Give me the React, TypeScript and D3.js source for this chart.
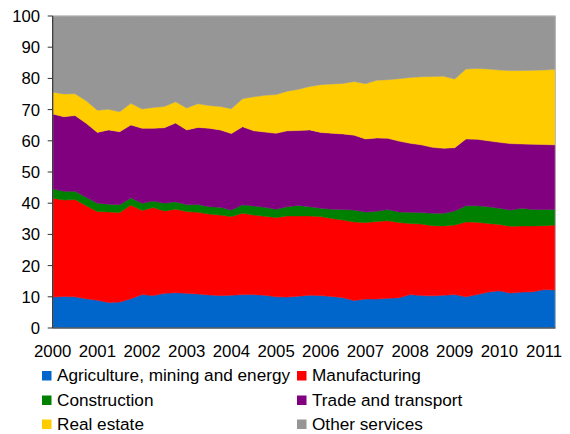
import React from "react";
import * as d3 from "d3";

const quarters: string[] = [];
for (let y = 2000; y <= 2011; y++) for (let q = 1; q <= 4; q++) quarters.push(`${y}Q${q}`);
const periods = quarters.slice(0, 46);

const agriculture = [9.9,10.1,10.0,9.4,8.9,8.2,8.3,9.4,10.7,10.4,11.1,11.3,11.1,10.9,10.6,10.4,10.5,10.7,10.7,10.5,10.0,9.9,10.2,10.5,10.4,10.1,9.7,8.8,9.3,9.3,9.5,9.7,10.7,10.4,10.3,10.5,10.7,10.0,10.7,11.5,11.9,11.2,11.5,11.6,12.3,12.2];
const manufacturing = [31.7,30.9,31.2,29.8,28.4,29.0,28.7,30.0,27.0,28.2,26.4,26.8,26.2,26.2,25.9,25.8,25.2,26.1,25.5,25.3,25.4,26.0,25.7,25.4,25.3,25.0,24.9,25.2,24.5,24.8,24.9,24.1,22.8,22.9,22.5,22.2,22.3,24.0,23.2,22.0,21.3,21.4,21.2,21.1,20.5,20.8];
const construction = [3.0,2.8,2.6,2.7,2.7,2.5,2.5,2.3,2.3,2.1,2.5,2.4,2.2,2.5,2.4,2.5,2.1,2.7,2.9,2.9,2.7,3.0,3.4,3.0,2.7,3.0,3.4,3.8,3.4,3.3,3.6,3.4,3.6,3.7,4.0,4.1,4.5,5.2,5.3,5.4,5.2,5.2,5.7,5.3,5.2,5.0];
const tradeTransport = [24.0,23.9,24.3,23.7,22.7,23.8,23.4,23.4,24.0,23.3,24.2,25.2,24.0,24.7,25.1,24.8,24.5,25.0,24.1,24.1,24.3,24.3,24.0,24.6,24.3,24.3,24.2,24.0,23.4,23.5,22.8,22.7,22.1,21.7,21.1,20.8,20.3,21.4,21.3,21.1,21.1,21.3,20.6,20.9,20.8,20.7];
const realEstate = [7.0,7.3,7.0,7.2,7.1,6.6,6.4,6.9,6.2,6.7,6.8,6.8,7.0,7.6,7.3,7.5,8.0,9.0,10.9,11.8,12.4,12.7,13.2,13.9,15.3,15.8,16.2,17.2,17.7,18.5,18.8,20.0,21.1,21.8,22.7,23.1,22.0,22.4,22.7,23.0,23.2,23.4,23.5,23.7,23.9,24.2];
const otherServices = [24.4,25.0,24.9,27.2,30.2,29.9,30.7,28.0,29.8,29.3,29.0,27.5,29.5,28.1,28.7,29.0,29.7,26.5,25.9,25.4,25.2,24.1,23.5,22.6,22.0,21.8,21.6,21.0,21.7,20.6,20.4,20.1,19.7,19.5,19.4,19.3,20.2,17.0,16.8,17.0,17.3,17.5,17.5,17.4,17.3,17.1];

const seriesNames = ["Agriculture, mining and energy", "Manufacturing", "Construction", "Trade and transport", "Real estate", "Other services"];
const seriesValues = [agriculture, manufacturing, construction, tradeTransport, realEstate, otherServices];
const seriesColors = ["#0066CC", "#FF0000", "#008000", "#800080", "#FFCC00", "#969696"];
const yTicks = [0, 10, 20, 30, 40, 50, 60, 70, 80, 90, 100];
const yearLabels = ["2000","2001","2002","2003","2004","2005","2006","2007","2008","2009","2010","2011"];

const W = 570, H = 434;
const left = 52.7, right = 555.3, top = 16, bottom = 328;
const FONT = "'Liberation Sans', Arial, sans-serif";

export default function App() {
  const rows = periods.map((p, i) => {
    const r: any = { i };
    seriesNames.forEach((n, k) => (r[n] = seriesValues[k][i]));
    return r;
  });
  const stack = d3.stack<any>().keys(seriesNames);
  const layers = stack(rows);
  const x = d3.scaleLinear().domain([0, periods.length - 1]).range([left, right]);
  const y = d3.scaleLinear().domain([0, 100]).range([bottom, top]);
  const area = d3.area<any>()
    .x((d) => x(d.data.i))
    .y0((d) => y(d[0]))
    .y1((d) => y(Math.min(100, d[1])));

  const legendCols = [42, 297];
  const legendRows = [381, 405.5, 429.5];

  return (
    <svg width={W} height={H} style={{ position: "absolute", left: 0, top: 0, background: "#fff" }} fontFamily={FONT}>
      {layers.map((l, k) => (
        <path key={k} d={area(l as any) || ""} fill={seriesColors[k]} stroke={seriesColors[k]} strokeWidth={0.5} />
      ))}
      <rect x={left} y={top} width={right - left} height={bottom - top} fill="none" stroke="#b4b4b4" strokeWidth={1} />
      <line x1={left} x2={left} y1={top} y2={bottom} stroke="#333" strokeWidth={1.2} />
      <line x1={left} x2={right} y1={bottom} y2={bottom} stroke="#333" strokeWidth={1.2} />
      {yTicks.map((t) => (
        <g key={t}>
          <line x1={left - 5} x2={left} y1={y(t)} y2={y(t)} stroke="#333" strokeWidth={1} />
          <text x={40} y={y(t)} dy="0.36em" textAnchor="end" fontSize={16.7} fill="#000">{t}</text>
        </g>
      ))}
      {yearLabels.map((lab, k) => (
        <text key={lab} x={x(k * 4)} y={357} textAnchor="middle" fontSize={16.8} fill="#000">{lab}</text>
      ))}
      {seriesNames.map((n, k) => {
        const cx = legendCols[k % 2];
        const cy = legendRows[Math.floor(k / 2)];
        return (
          <g key={n}>
            <rect x={cx} y={cy - 10} width={9.5} height={9.5} fill={seriesColors[k]} />
            <text x={cx + 15} y={cy} fontSize={17.2} fill="#000">{n}</text>
          </g>
        );
      })}
    </svg>
  );
}
